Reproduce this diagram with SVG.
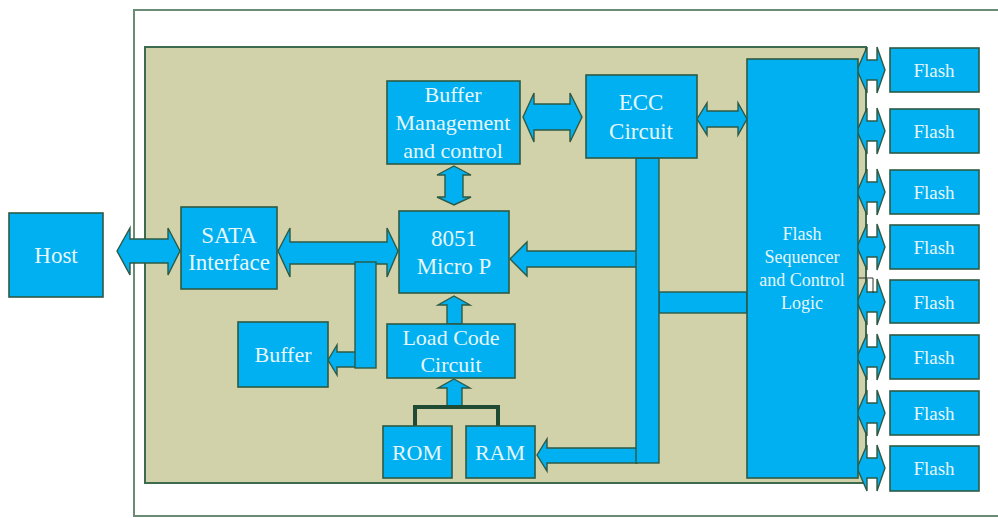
<svg xmlns="http://www.w3.org/2000/svg" width="998" height="518" viewBox="0 0 998 518">
<style>
.box{fill:#00b0f0;stroke:#2c5a44;stroke-width:1.6}
.arr{fill:#00b0f0;stroke:#2c5a44;stroke-width:1.4;stroke-linejoin:miter}
.t{font-family:"Liberation Serif","Times New Roman",serif;fill:#e6f6fb;text-anchor:middle}
.t20{font-size:23px}
.t19{font-size:22px}
.t18{font-size:19px}
.t16{font-size:18px}
</style>
<rect x="0" y="0" width="998" height="518" fill="#ffffff"/>
<rect id="frame" x="134" y="10" width="900" height="506" fill="#ffffff" stroke="#6b8b75" stroke-width="2"/>
<rect id="board" x="145" y="47" width="721" height="436" fill="#d2d2aa" stroke="#3d6b50" stroke-width="2"/>

<g id="connectors">
  <polygon class="arr" points="117,251 130,228 130,239 168,239 168,228 180,251 168,275 168,263 130,263 130,275"/>
  <polygon class="arr" points="278,251 290,228 290,242 387,242 387,228 398,251 387,277 387,264 290,264 290,277"/>
  <polygon class="arr" points="328,360 337,345 337,352 356,352 356,367 337,367 337,375"/>
  <rect class="arr" x="355" y="262" width="21" height="106"/>
  <polygon class="arr" points="454,166 471,175 463,175 463,197 471,197 454,205 437,197 445,197 445,175 437,175"/>
  <polygon class="arr" points="523,117 534,93 534,104 570,104 570,93 582,117 570,142 570,130 534,130 534,142"/>
  <polygon class="arr" points="697,119 707,103 707,111 738,111 738,103 747,119 738,135 738,127 707,127 707,135"/>
  <polygon class="arr" points="510,259 527,242 527,251 637,251 637,267 527,267 527,276"/>
  <rect class="arr" x="659" y="292" width="88" height="21"/>
  <polygon class="arr" points="537,455 547,439 547,448 637,448 637,463 547,463 547,471"/>
  <rect class="arr" x="636" y="158" width="23" height="305"/>
  <polygon class="arr" points="454,296 470,305 462,305 462,324 447,324 447,305 438,305"/>
  <polygon class="arr" points="454,379 470,388 462,388 462,407 447,407 447,388 438,388"/>
  <polyline points="415,428 415,407 498,407 498,428" fill="none" stroke="#1f4a33" stroke-width="4"/>
  <polygon class="arr" points="857,70 867,47 867,60 877,60 877,47 885,70 877,93 877,80 867,80 867,93"/>
  <polygon class="arr" points="857,131 867,108 867,121 877,121 877,108 885,131 877,154 877,141 867,141 867,154"/>
  <polygon class="arr" points="857,192 867,169 867,182 877,182 877,169 885,192 877,215 877,202 867,202 867,215"/>
  <polygon class="arr" points="857,247 867,224 867,237 877,237 877,224 885,247 877,270 877,257 867,257 867,270"/>
  <polygon class="arr" points="857,302 867,279 867,292 877,292 877,279 885,302 877,325 877,312 867,312 867,325"/>
  <polygon class="arr" points="857,357 867,334 867,347 877,347 877,334 885,357 877,380 877,367 867,367 867,380"/>
  <polygon class="arr" points="857,413 867,390 867,403 877,403 877,390 885,413 877,436 877,423 867,423 867,436"/>
  <polygon class="arr" points="857,468 867,445 867,458 877,458 877,445 885,468 877,491 877,478 867,478 867,491"/>
  <polyline points="858,278 873,278 873,293" fill="none" stroke="#333333" stroke-width="1"/>
</g>

<g id="host"><rect class="box" x="9" y="213" width="94" height="84"/><text class="t t20" x="56" y="263">Host</text></g>
<g id="sata"><rect class="box" x="181" y="207" width="96" height="82"/><text class="t t20" x="229" y="243">SATA</text><text class="t t20" x="229" y="270">Interface</text></g>
<g id="buffer"><rect class="box" x="238" y="322" width="90" height="65"/><text class="t t19" x="283" y="362">Buffer</text></g>
<g id="bufmgmt"><rect class="box" x="387" y="81" width="133" height="83"/><text class="t t19" x="453" y="102">Buffer</text><text class="t t19" x="453" y="130">Management</text><text class="t t19" x="453" y="158">and control</text></g>
<g id="ecc"><rect class="box" x="586" y="75" width="111" height="83"/><text class="t t20" x="641" y="110">ECC</text><text class="t t20" x="641" y="139">Circuit</text></g>
<g id="micro"><rect class="box" x="399" y="211" width="110" height="82"/><text class="t t20" x="454" y="246">8051</text><text class="t t20" x="454" y="274">Micro P</text></g>
<g id="loadcode"><rect class="box" x="387" y="324" width="128" height="54"/><text class="t t19" x="451" y="345">Load Code</text><text class="t t19" x="451" y="372">Circuit</text></g>
<g id="rom"><rect class="box" x="383" y="426" width="69" height="52"/><text class="t t19" x="417" y="460">ROM</text></g>
<g id="ram"><rect class="box" x="466" y="426" width="69" height="52"/><text class="t t19" x="500" y="460">RAM</text></g>
<g id="sequencer"><rect class="box" x="747" y="59" width="111" height="419"/><text class="t t16" x="802" y="240">Flash</text><text class="t t16" x="802" y="263">Sequencer</text><text class="t t16" x="802" y="286">and Control</text><text class="t t16" x="802" y="309">Logic</text></g>
<g id="flash1"><rect class="box" x="890" y="48" width="89" height="44"/><text class="t t18" x="934" y="77">Flash</text></g>
<g id="flash2"><rect class="box" x="890" y="109" width="89" height="44"/><text class="t t18" x="934" y="138">Flash</text></g>
<g id="flash3"><rect class="box" x="890" y="170" width="89" height="44"/><text class="t t18" x="934" y="199">Flash</text></g>
<g id="flash4"><rect class="box" x="890" y="225" width="89" height="44"/><text class="t t18" x="934" y="254">Flash</text></g>
<g id="flash5"><rect class="box" x="890" y="280" width="89" height="43"/><text class="t t18" x="934" y="309">Flash</text></g>
<g id="flash6"><rect class="box" x="890" y="335" width="89" height="44"/><text class="t t18" x="934" y="364">Flash</text></g>
<g id="flash7"><rect class="box" x="890" y="391" width="89" height="44"/><text class="t t18" x="934" y="420">Flash</text></g>
<g id="flash8"><rect class="box" x="890" y="446" width="89" height="45"/><text class="t t18" x="934" y="475">Flash</text></g>
</svg>
